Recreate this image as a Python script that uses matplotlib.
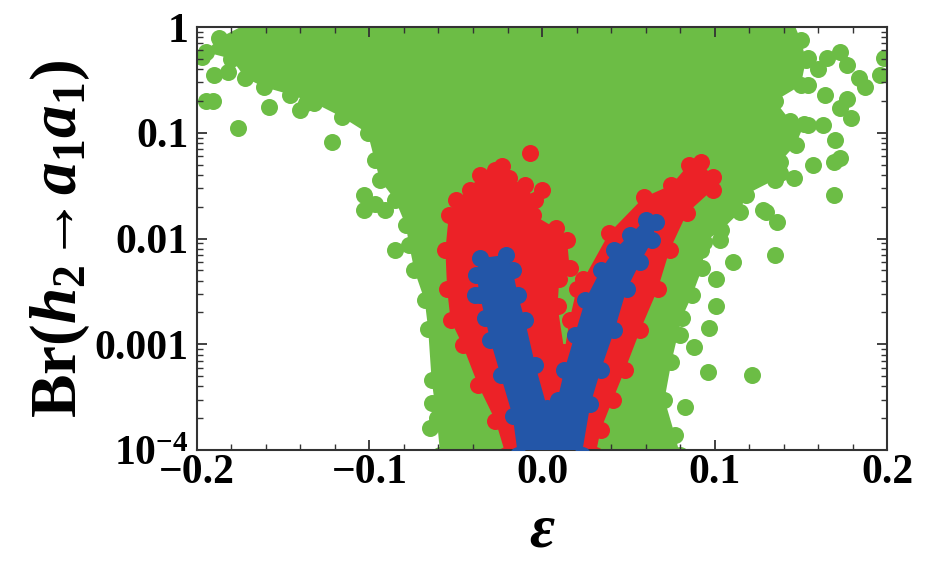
import matplotlib
matplotlib.use('Agg')
import matplotlib.pyplot as plt
from matplotlib.ticker import FixedLocator, FixedFormatter, MultipleLocator, LogLocator, NullFormatter

plt.rcParams['font.family'] = 'Liberation Serif'
plt.rcParams['font.weight'] = 'bold'
plt.rcParams['mathtext.fontset'] = 'custom'
plt.rcParams['mathtext.rm'] = 'Liberation Serif:bold'
plt.rcParams['mathtext.it'] = 'Liberation Serif:italic:bold'
plt.rcParams['mathtext.bf'] = 'Liberation Serif:bold'

# all scan points (green): outline of the dense cloud
green_eps = [-0.187, -0.161, 0.144, 0.150, 0.153, 0.150, 0.135, 0.144, 0.152, 0.147,
             0.138, 0.135, 0.118, 0.115, 0.104, 0.094, 0.093, 0.087, 0.081, 0.075,
             0.071, 0.077, 0.080, -0.059, -0.061, -0.064, -0.066, -0.068, -0.074, -0.077,
             -0.079, -0.085, -0.094, -0.097, -0.101, -0.116, -0.132, -0.146, -0.161, -0.172,
             -0.180, -0.195]
green_br = [0.79, 1.3, 1.3, 0.75, 0.49, 0.28, 0.20, 0.13, 0.12, 0.077,
            0.053, 0.036, 0.026, 0.018, 0.012, 0.0093, 0.0053, 0.0029, 0.00177, 0.00068,
            0.0003, 0.000139, 0.00009, 0.00009, 0.0002, 0.00046, 0.0014, 0.0026, 0.0050, 0.0087,
            0.0134, 0.023, 0.036, 0.055, 0.099, 0.141, 0.191, 0.23, 0.27, 0.33,
            0.50, 0.58]
# scattered green points outside the dense cloud
green_pts_eps = [-0.197, -0.195, -0.191, -0.190, -0.182, -0.176, -0.158, -0.140, -0.137, -0.122,
                 -0.103, -0.097, -0.103, -0.091, -0.085, -0.064, -0.065,
                 0.142, 0.154, 0.165, 0.173, 0.177, 0.184, 0.196, 0.198, 0.154, 0.164,
                 0.173, 0.177, 0.179, 0.163, 0.170, 0.173, 0.154, 0.169, 0.157, 0.169,
                 0.146, 0.138, 0.130, 0.136, 0.128, 0.111, 0.135, 0.101, 0.101, 0.097,
                 0.088, 0.096, 0.122, 0.083, 0.080, 0.092, 0.103, 0.160, 0.187]
green_pts_br = [0.52, 0.20, 0.20, 0.35, 0.375, 0.111, 0.175, 0.164, 0.19, 0.082,
                0.026, 0.021, 0.0186, 0.0186, 0.0078, 0.00028, 0.00016,
                0.79, 0.51, 0.51, 0.58, 0.44, 0.33, 0.35, 0.51, 0.283, 0.228,
                0.17, 0.21, 0.138, 0.118, 0.085, 0.058, 0.118, 0.053, 0.050, 0.026,
                0.037, 0.042, 0.018, 0.0143, 0.0186, 0.0060, 0.0070, 0.0041, 0.0023, 0.00143,
                0.00094, 0.00055, 0.00051, 0.000255, 0.00122, 0.0078, 0.0097, 0.40, 0.27]

# red points (outline of the V band)
red_eps = [-0.023, -0.019, -0.010, -0.004, -0.005, 0.008, 0.0145, 0.016, 0.010, 0.009,
           0.013, 0.016, 0.020, 0.024, 0.039, 0.059, 0.075, 0.085, 0.092, 0.099,
           0.099, 0.084, 0.074, 0.067, 0.057, 0.048, 0.041, 0.034, 0.031, -0.021,
           -0.027, -0.037, -0.046, -0.053, -0.055, -0.056, -0.054, -0.050, -0.042, -0.036,
           -0.027]
red_br = [0.049, 0.037, 0.032, 0.023, 0.0167, 0.0125, 0.0097, 0.0053, 0.0041, 0.0023,
          0.00085, 0.0017, 0.0033, 0.0041, 0.0113, 0.0245, 0.032, 0.050, 0.053, 0.038,
          0.029, 0.0174, 0.0078, 0.0033, 0.00137, 0.00057, 0.0003, 0.000155, 0.00009, 0.00009,
          0.00019, 0.00041, 0.00098, 0.0017, 0.0033, 0.0078, 0.0167, 0.023, 0.029, 0.040,
          0.044]
red_pts_eps = [-0.007, 0.0]
red_pts_br = [0.064, 0.029]

# blue points (outline of the inner V)
blue_eps = [-0.036, -0.021, -0.017, -0.014, -0.010, -0.004, 0.003, 0.006, 0.009, 0.013,
            0.019, 0.025, 0.034, 0.042, 0.051, 0.060, 0.066, 0.064, 0.057, 0.049,
            0.042, 0.034, 0.028, 0.023, -0.014, -0.017, -0.024, -0.030, -0.033, -0.036,
            -0.038]
blue_br = [0.0065, 0.0070, 0.0050, 0.0029, 0.0017, 0.00064, 0.00025, 0.00023, 0.0003, 0.00057,
           0.00122, 0.0026, 0.0050, 0.0078, 0.0108, 0.015, 0.0143, 0.0097, 0.0060, 0.0033,
           0.00136, 0.00057, 0.00027, 0.00009, 0.00009, 0.00021, 0.00051, 0.0011, 0.00177, 0.0029,
           0.0045]
blue_pts_eps = [-0.039]
blue_pts_br = [0.0029]

green = '#6cbd45'
red = '#ec2227'
blue = '#2356a8'

fig = plt.figure(figsize=(9.3, 5.65), dpi=100)
ax = fig.add_axes([0.2118, 0.2035, 0.742, 0.7487])
ax.set_yscale('log')

s = 150
for ex, by, px, py, c, z in [(green_eps, green_br, green_pts_eps, green_pts_br, green, 1),
                             (red_eps, red_br, red_pts_eps, red_pts_br, red, 2),
                             (blue_eps, blue_br, blue_pts_eps, blue_pts_br, blue, 3)]:
    ax.fill(ex, by, color=c, lw=0, zorder=z)
    ax.scatter(ex, by, s=s, color=c, lw=0, zorder=z)
    ax.scatter(px, py, s=s, color=c, lw=0, zorder=z)

ax.set_xlim(-0.2, 0.2)
ax.set_ylim(1e-4, 1)

ax.xaxis.set_major_locator(FixedLocator([-0.2, -0.1, 0.0, 0.1, 0.2]))
ax.xaxis.set_major_formatter(FixedFormatter(['\u22120.2', '\u22120.1', '0.0', '0.1', '0.2']))
ax.xaxis.set_minor_locator(MultipleLocator(0.02))
ax.yaxis.set_major_locator(FixedLocator([1e-4, 1e-3, 1e-2, 0.1, 1]))
ax.yaxis.set_major_formatter(FixedFormatter([r'$\mathbf{10^{-4}}$', '0.001', '0.01', '0.1', '1']))
ax.yaxis.set_minor_locator(LogLocator(base=10, subs=range(2, 10)))
ax.yaxis.set_minor_formatter(NullFormatter())

ax.tick_params(which='both', direction='in', top=True, right=True, labelsize=30, color='#333333')
ax.tick_params(which='major', length=7, width=1.3)
ax.tick_params(which='minor', length=4, width=1.0)
ax.tick_params(axis='x', pad=3)
ax.tick_params(axis='y', pad=6)
for sp in ax.spines.values():
    sp.set_linewidth(1.5)
    sp.set_color('#333333')

ax.set_xlabel('ε', fontsize=44, fontstyle='italic', fontweight='bold', labelpad=8)
ax.set_ylabel(r'$\mathrm{Br}(h_2\!\rightarrow\! a_1a_1)$', fontsize=47, labelpad=2)

fig.savefig('out.png', dpi=100)
